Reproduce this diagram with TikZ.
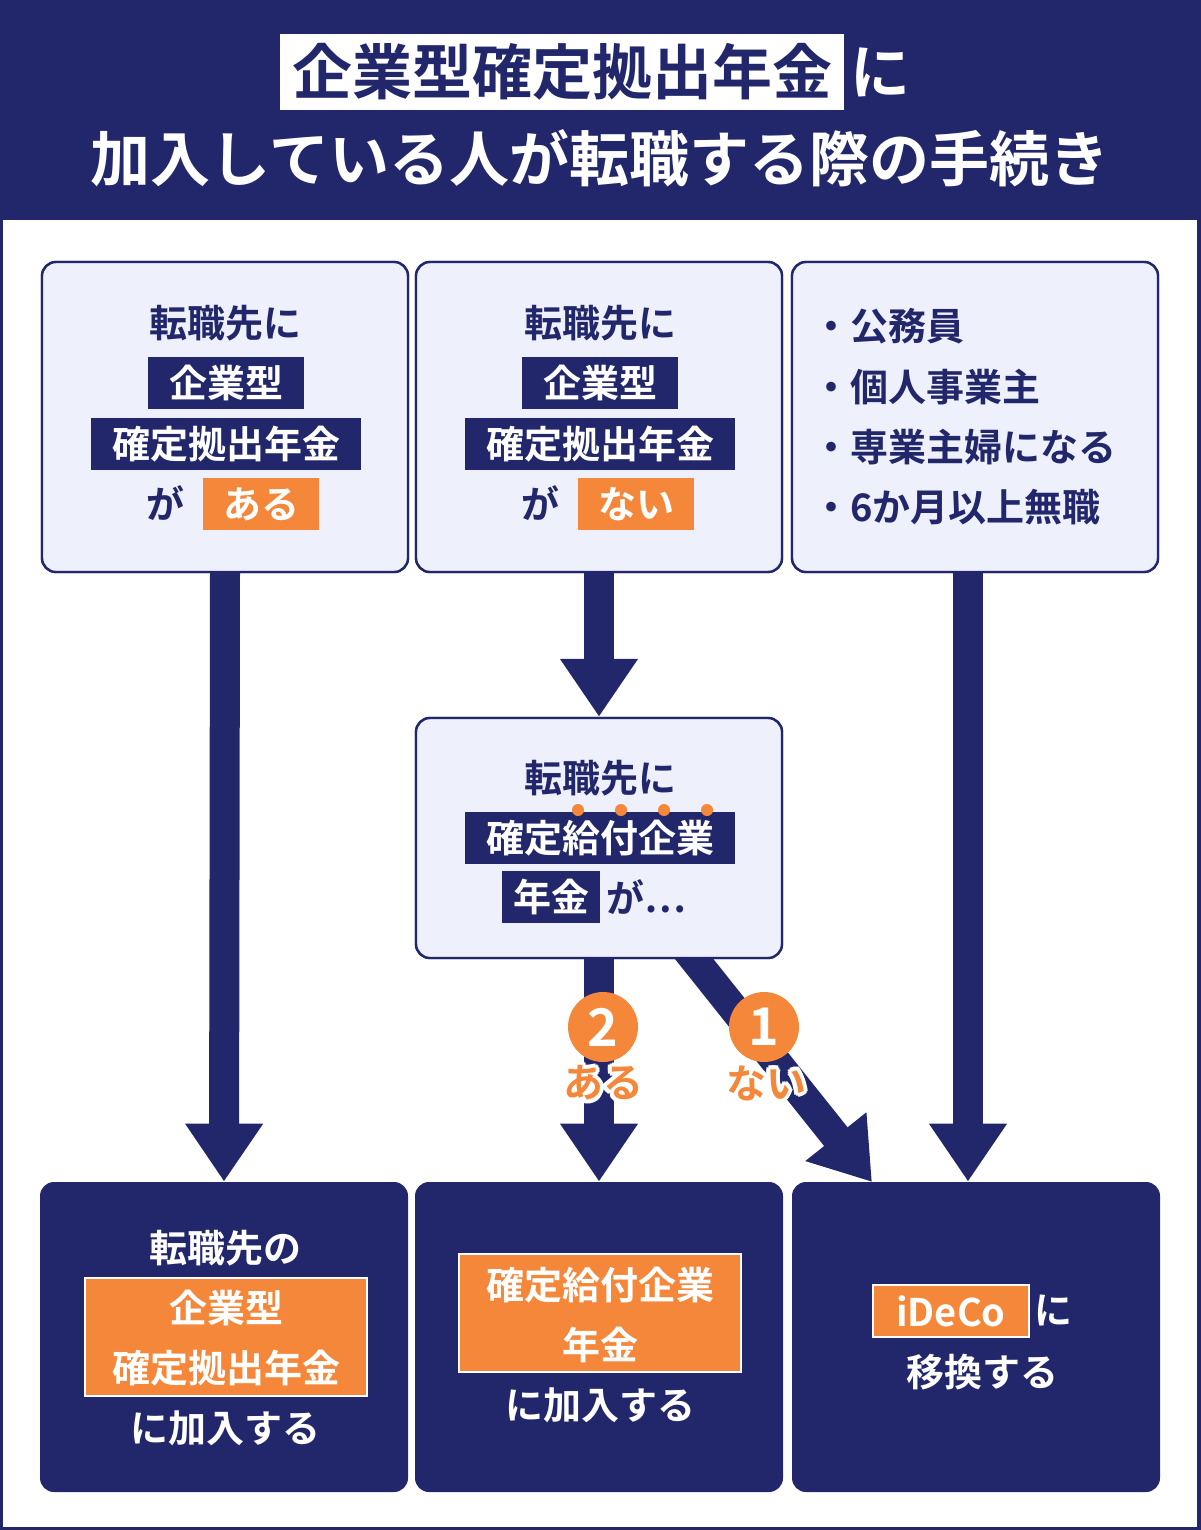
\documentclass[tikz,border=0pt]{standalone}
\usepackage{fontspec}
\setmainfont{Noto Sans CJK JP}[UprightFont=* Bold]
\usepackage{contour}
\contourlength{2pt}
\contournumber{12}
\usetikzlibrary{arrows.meta}
\definecolor{navy}{HTML}{22276B}
\definecolor{lite}{HTML}{EEF0FB}
\definecolor{org}{HTML}{F5873A}
\begin{document}
\begin{tikzpicture}[x=0.5pt,y=-0.5pt,
  every node/.style={inner sep=0,font=\fontsize{19}{20}\selectfont},
  tbox/.style={draw=navy,line width=1.2pt,fill=lite,rounded corners=7pt,minimum width=183pt,minimum height=155pt},
  bbox/.style={fill=navy,rounded corners=7pt,minimum width=184pt,minimum height=155pt},
  hl/.style={fill=navy,text=white,minimum height=26pt},
  ho/.style={fill=org,text=white,minimum height=26pt},
  tx/.style={text=navy},
  arr/.style={navy,line width=15pt,-{Triangle[width=37pt,length=29pt]}},
  num/.style={circle,fill=org,text=white,minimum size=35pt,font=\fontsize{26}{26}\selectfont}]
\useasboundingbox (0,0) rectangle (1200,1530);
\draw[navy,line width=2pt] (1,1) rectangle (1199,1529);
\fill[navy] (0,0) rectangle (1200,220);
\node[fill=white,minimum width=282pt,minimum height=38pt] (tb) at (562,72) {};
\node[text=navy,font=\fontsize{30}{30}\selectfont] (t1a) at (562,72) {企業型確定拠出年金};
\node[text=white,font=\fontsize{30}{30}\selectfont] (t1b) at (880,72) {に};
\node[text=white,font=\fontsize{30}{30}\selectfont] (t2) at (600,158) {加入している人が転職する際の手続き};

\node[tbox] (a) at (225,417) {};
\node[tbox] (b) at (599,417) {};
\node[tbox] (c) at (975,417) {};
\node[tbox,minimum height=120pt] (m) at (599,838) {};
\node[bbox] (x) at (224,1337) {};
\node[bbox] (y) at (599,1337) {};
\node[bbox] (z) at (976,1337) {};
\coordinate (zt) at (872,1182);
\draw[arr] (a.south) -- (x.north);
\draw[arr] (b.south) -- (m.north);
\draw[arr] (c.south -| 968,0) -- (z.north -| 968,0);
\draw[arr] (m.south) -- (y.north);
\draw[arr] (683,945) -- (zt);
\node[tbox] at (225,417) {};
\node[tbox] at (599,417) {};
\node[tbox] at (975,417) {};
\node[tbox,minimum height=120pt] at (599,838) {};

\node[tx] (a1) at (225,323) {転職先に};
\node[hl,minimum width=78pt] (a2) at (226,383) {企業型};
\node[hl,minimum width=135pt] (a3) at (226,444) {確定拠出年金};
\node[tx] (a4) at (165,503) {が};
\node[ho,minimum width=58pt] (a5) at (261,504) {ある};
\node[tx] (b1) at (600,323) {転職先に};
\node[hl,minimum width=78pt] (b2) at (600,383) {企業型};
\node[hl,minimum width=135pt] (b3) at (600,444) {確定拠出年金};
\node[tx] (b4) at (540,503) {が};
\node[ho,minimum width=58pt] (b5) at (636,504) {ない};
\node[tx,anchor=west] (c1) at (812,326) {・公務員};
\node[tx,anchor=west] (c2) at (812,387) {・個人事業主};
\node[tx,anchor=west] (c3) at (812,447) {・専業主婦になる};
\node[tx,anchor=west] (c4) at (812,507) {・6か月以上無職};
\node[tx] (m1) at (600,778) {転職先に};
\node[hl,minimum width=135pt] (m2) at (600,838) {確定給付企業};
\foreach \xx in {578,621,664,707} \fill[org] (\xx,810) circle (3pt);
\node[hl,minimum width=49pt] (m3) at (551,897) {年金};
\node[tx,anchor=west] (m4) at (606,897) {が…};
\node[num] (n2) at (603,1027) {2};
\node[text=org,font=\fontsize{20}{20}\selectfont] (l2) at (603,1085) {\contour{white}{ある}};
\node[num] (n1) at (764,1027) {1};
\node[text=org,font=\fontsize{20}{20}\selectfont] (l1) at (766,1085) {\contour{white}{ない}};
\node[text=white] (x1) at (225,1248) {転職先の};
\node[fill=org,draw=white,line width=1pt,minimum width=141pt,minimum height=59pt] (x2) at (226,1337) {};
\node[text=white] (x3) at (226,1308) {企業型};
\node[text=white] (x4) at (226,1368) {確定拠出年金};
\node[text=white] (x5) at (225,1428) {に加入する};
\node[fill=org,draw=white,line width=1pt,minimum width=141pt,minimum height=59pt] (y1) at (600,1313) {};
\node[text=white] (y2) at (600,1285) {確定給付企業};
\node[text=white] (y3) at (600,1345) {年金};
\node[text=white] (y4) at (600,1405) {に加入する};
\node[fill=org,draw=white,line width=1pt,minimum width=78pt,minimum height=26pt,text=white] (z1) at (951,1311) {iDeCo};
\node[text=white,anchor=west] (z2) at (1034,1311) {に};
\node[text=white] (z3) at (982,1372) {移換する};
\end{tikzpicture}
\end{document}
